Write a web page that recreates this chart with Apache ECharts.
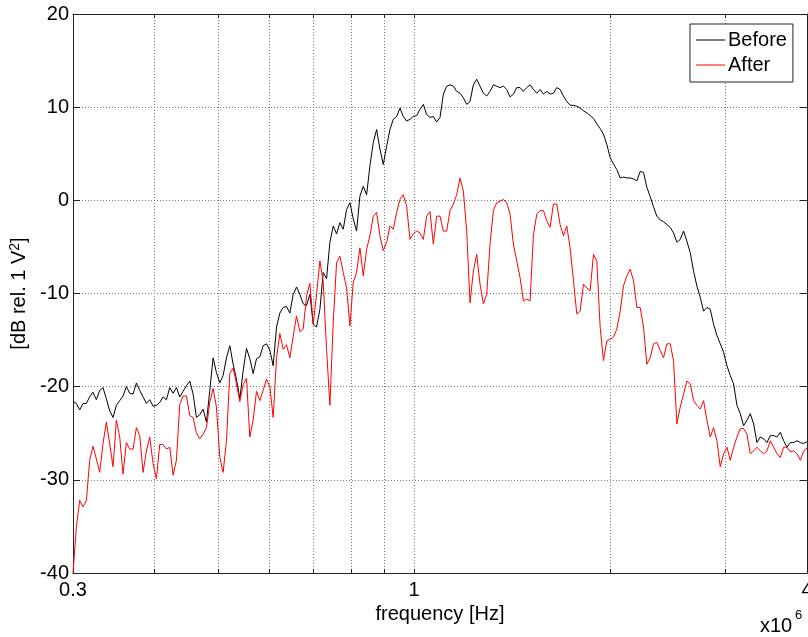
<!DOCTYPE html>
<html>
<head>
<meta charset="utf-8">
<script src="https://cdn.jsdelivr.net/npm/echarts@6/dist/echarts.min.js"></script>
<style>
  html, body { margin: 0; padding: 0; background: #fff; }
  #chart { width: 808px; height: 637px; }
</style>
</head>
<body>
<div id="chart"></div>
<script>
// Frequency span of the measurement, in MHz (axis is scaled x 10^6 Hz)
const freqMinMHz = 0.3;
const freqMaxMHz = 4;

// Spectrum level before treatment, dB rel. 1 V^2, on a log-spaced frequency grid
const beforeDb = [
  -21.6, -21.8, -22.5, -21.8, -21.8, -21.1, -20.6, -21.4, -20.4, -20.1,
  -21.3, -22.6, -23.3, -22.0, -21.5, -21.0, -20.0, -20.7, -20.8, -19.6,
  -20.4, -21.1, -21.8, -21.4, -22.1, -22.0, -21.7, -21.1, -21.4, -20.1,
  -20.7, -20.1, -21.1, -20.5, -19.9, -19.4, -20.8, -23.3, -23.0,
  -22.4, -23.8, -20.4, -16.9, -18.5, -19.6, -18.8, -16.9, -15.6, -17.6,
  -19.2, -21.3, -18.3, -15.9, -17.0, -18.6, -17.0, -16.8, -15.6, -15.4,
  -16.1, -17.75, -13.6, -12.1, -11.5, -11.4, -12.1, -10.1, -9.3, -10.1,
  -11.1, -11.3, -10.1, -13.3, -13.6,
  -11.7, -7.75, -8.4, -4.5, -2.75, -3.6, -2.4, -3.1, -1.0, -0.25,
  -2.0, -3.3, 0.46, 1.5, 0.6, 3.7, 6.2, 7.6, 5.5, 3.85,
  5.8, 7.6, 8.7, 9.0, 9.9, 9.0, 8.5, 8.7, 9.0, 9.1,
  9.75, 10.3, 9.2, 8.9, 9.0, 8.4, 8.9,
  11.4, 12.25, 12.4, 12.25, 11.7, 11.5, 11.0, 10.3, 10.6, 12.4,
  13.0, 12.25, 11.5, 11.2, 11.7, 12.4, 12.25, 12.1, 12.25, 11.9,
  11.1, 11.4, 12.1, 12.1, 11.7, 12.1, 12.4, 11.9, 11.5, 11.9,
  11.4, 11.7, 11.4, 11.5, 12.1,
  11.9, 11.2, 10.6, 10.2, 10.2, 10.1, 9.9, 9.6, 9.4, 9.1,
  8.8, 8.2, 7.7, 7.1, 6.0, 4.6, 3.9, 3.3, 2.4, 2.5,
  2.4, 2.4, 2.3, 2.1, 3.1, 3.0, 1.4, 0.4, -0.7, -1.7,
  -2.1, -2.3, -2.6, -2.9, -3.5, -4.5,
  -4.2, -3.3, -4.4, -5.6, -7.6, -9.2, -10.4, -11.9, -11.5, -11.7,
  -13.3, -14.5, -15.4, -16.3, -17.75, -18.8, -19.7, -22.0, -22.9, -24.2,
  -23.6, -22.9, -24.0, -26.0, -25.4, -25.6, -26.0, -25.25, -25.25, -25.4,
  -24.9, -25.8, -26.5, -26.0, -26.0, -25.8, -26.0, -26.1, -25.9
];

// Spectrum level after treatment, same frequency grid
const afterDb = [
  -40.0, -35.1, -32.2, -32.9, -32.25, -27.9, -26.4, -27.75, -29.2, -26.1,
  -23.8, -26.1, -28.6, -23.6, -25.4, -29.4, -26.0, -26.7, -26.7, -24.4,
  -25.25, -29.2, -26.9, -25.4, -28.25, -29.9, -26.2, -26.2, -26.7, -26.5,
  -29.5, -27.9, -21.9, -21.0, -21.0, -23.1, -23.3, -25.0, -25.6,
  -25.1, -24.4, -21.7, -20.2, -22.2, -27.6, -29.2, -25.8, -18.6, -18.0,
  -19.7, -21.6, -19.8, -19.1, -25.4, -23.6, -20.5, -21.5, -20.4, -19.2,
  -20.0, -23.3, -16.9, -14.3, -16.0, -15.5, -16.9, -14.6, -12.4, -14.1,
  -13.8, -10.25, -8.9, -13.3, -10.1,
  -6.5, -8.8, -16.0, -22.0, -13.1, -6.7, -6.0, -7.75, -9.4, -13.5,
  -8.8, -7.75, -5.1, -8.1, -5.25, -3.8, -1.7, -1.3, -3.8, -5.4,
  -4.5, -2.75, -3.1, -1.3, 0.1, 0.6, -0.6, -4.2, -3.6, -3.3,
  -3.5, -4.2, -1.7, -1.2, -4.7, -1.7, -1.7,
  -3.3, -3.3, -1.1, -0.4, 0.6, 2.4, 1.0, -3.3, -11.0, -7.6,
  -5.8, -9.0, -11.1, -10.1, -4.7, -1.1, -0.25, -0.1, 0.1, -0.25,
  -1.5, -4.7, -6.5, -8.3, -10.8, -10.6, -10.8, -3.7, -1.5, -1.1,
  -1.1, -2.2, -2.9, -0.4, -0.4,
  -2.6, -3.8, -2.75, -5.1, -8.6, -12.2, -11.9, -9.0, -9.4, -9.7,
  -5.8, -6.5, -13.6, -17.2, -15.1, -14.9, -14.7, -13.8, -11.9, -9.2,
  -8.1, -7.4, -8.6, -11.5, -11.5, -13.6, -17.6, -16.9, -15.4, -15.25,
  -16.1, -16.9, -15.4, -15.4, -17.2, -24.0,
  -22.2, -20.8, -19.4, -19.7, -21.5, -22.0, -22.4, -21.5, -23.6, -25.4,
  -24.4, -25.8, -28.6, -27.2, -26.5, -27.9, -26.5, -25.4, -24.5, -24.5,
  -25.1, -27.2, -26.9, -26.5, -26.9, -27.2, -26.9, -25.8, -26.5, -27.2,
  -27.6, -26.5, -26.5, -27.0, -26.9, -27.2, -27.9, -26.9, -26.6
];

// Axis ticks and labels
const xTickMHz = [0.3, 0.4, 0.5, 0.6, 0.7, 0.8, 0.9, 1, 2, 3, 4];
const xLabelMHz = [0.3, 1, 4];
const yMin = -40, yMax = 20, yStep = 10;

const seriesNames = ['Before', 'After'];

// Log-spaced sample frequencies shared by both traces
const sampleFreqMHz = beforeDb.map((_, i) =>
  freqMinMHz * Math.pow(freqMaxMHz / freqMinMHz, i / (beforeDb.length - 1)));

// The frequency axis is logarithmic: positions are log10(f)
const lg = Math.log10;
const toPoints = vals => vals.map((v, i) => [lg(sampleFreqMHz[i]), v]);

const FONT = 'Liberation Sans, Arial, sans-serif';
const FS = 20;
const AXIS_COLOR = '#222';
const gridLine = { show: true, lineStyle: { color: '#777', width: 1, type: [1, 2] } };
const boxLine = { show: true, onZero: false, lineStyle: { color: AXIS_COLOR, width: 1 } };

const chart = echarts.init(document.getElementById('chart'), null, { renderer: 'canvas' });

chart.setOption({
  animation: false,
  backgroundColor: '#fff',
  grid: { left: 73, right: 1, top: 14, bottom: 64, containLabel: false, outerBoundsMode: 'none' },
  legend: {
    data: seriesNames.map(n => ({ name: n, icon: 'rect' })),
    orient: 'vertical',
    left: 690, top: 24,
    padding: [6, 6, 7, 6],
    itemGap: 5,
    itemWidth: 29, itemHeight: 1,
    borderColor: '#222', borderWidth: 1,
    backgroundColor: '#fff',
    textStyle: { fontFamily: FONT, fontSize: FS, color: '#000', lineHeight: 19, padding: [0, 0, 0, -2] }
  },
  xAxis: [{
    type: 'value',
    min: lg(freqMinMHz), max: lg(freqMaxMHz),
    name: 'frequency [Hz]',
    nameLocation: 'middle', nameGap: 27,
    nameTextStyle: { fontFamily: FONT, fontSize: FS, color: '#000' },
    axisLine: boxLine,
    axisTick: { inside: true, length: 4, customValues: xTickMHz.map(lg), lineStyle: { color: AXIS_COLOR } },
    axisLabel: {
      customValues: xLabelMHz.map(lg),
      showMinLabel: true, showMaxLabel: true,
      margin: 7,
      fontFamily: FONT, fontSize: FS, color: '#000',
      formatter: v => String(Math.round(Math.pow(10, v) * 10) / 10)
    },
    splitLine: gridLine
  }, {
    type: 'value', position: 'top',
    min: lg(freqMinMHz), max: lg(freqMaxMHz),
    axisLine: boxLine,
    axisTick: { show: true, inside: true, length: 4, customValues: xTickMHz.map(lg), lineStyle: { color: AXIS_COLOR } },
    axisLabel: { show: false },
    splitLine: { show: false }
  }],
  yAxis: [{
    type: 'value',
    min: yMin, max: yMax, interval: yStep,
    name: '{t|[dB rel. 1 V}{s|2}{t|]}',
    nameLocation: 'middle', nameGap: 42, nameRotate: 90,
    nameTextStyle: {
      fontFamily: FONT, fontSize: FS, color: '#000',
      rich: {
        t: { fontFamily: FONT, fontSize: FS, color: '#000', lineHeight: 22 },
        s: { fontFamily: FONT, fontSize: 14, color: '#000', lineHeight: 22, verticalAlign: 'top' }
      }
    },
    axisLine: boxLine,
    axisTick: { show: true, inside: true, length: 7, lineStyle: { color: AXIS_COLOR } },
    axisLabel: { margin: 4, fontFamily: FONT, fontSize: FS, color: '#000' },
    splitLine: gridLine
  }, {
    type: 'value', position: 'right',
    min: yMin, max: yMax, interval: yStep,
    axisLine: boxLine,
    axisTick: { show: true, inside: true, length: 7, lineStyle: { color: AXIS_COLOR } },
    axisLabel: { show: false },
    splitLine: { show: false }
  }],
  series: [{
    name: seriesNames[0],
    type: 'line',
    data: toPoints(beforeDb),
    symbol: 'none',
    lineStyle: { color: '#000', width: 1 },
    itemStyle: { color: '#000' }
  }, {
    name: seriesNames[1],
    type: 'line',
    data: toPoints(afterDb),
    symbol: 'none',
    lineStyle: { color: '#ff0000', width: 1 },
    itemStyle: { color: '#ff0000' }
  }],
  graphic: [{
    type: 'text', left: 760, top: 616,
    style: { text: 'x10', font: FS + 'px ' + FONT, fill: '#000' }
  }, {
    type: 'text', left: 795, top: 609,
    style: { text: '6', font: '13px ' + FONT, fill: '#000' }
  }]
});
</script>
</body>
</html>
